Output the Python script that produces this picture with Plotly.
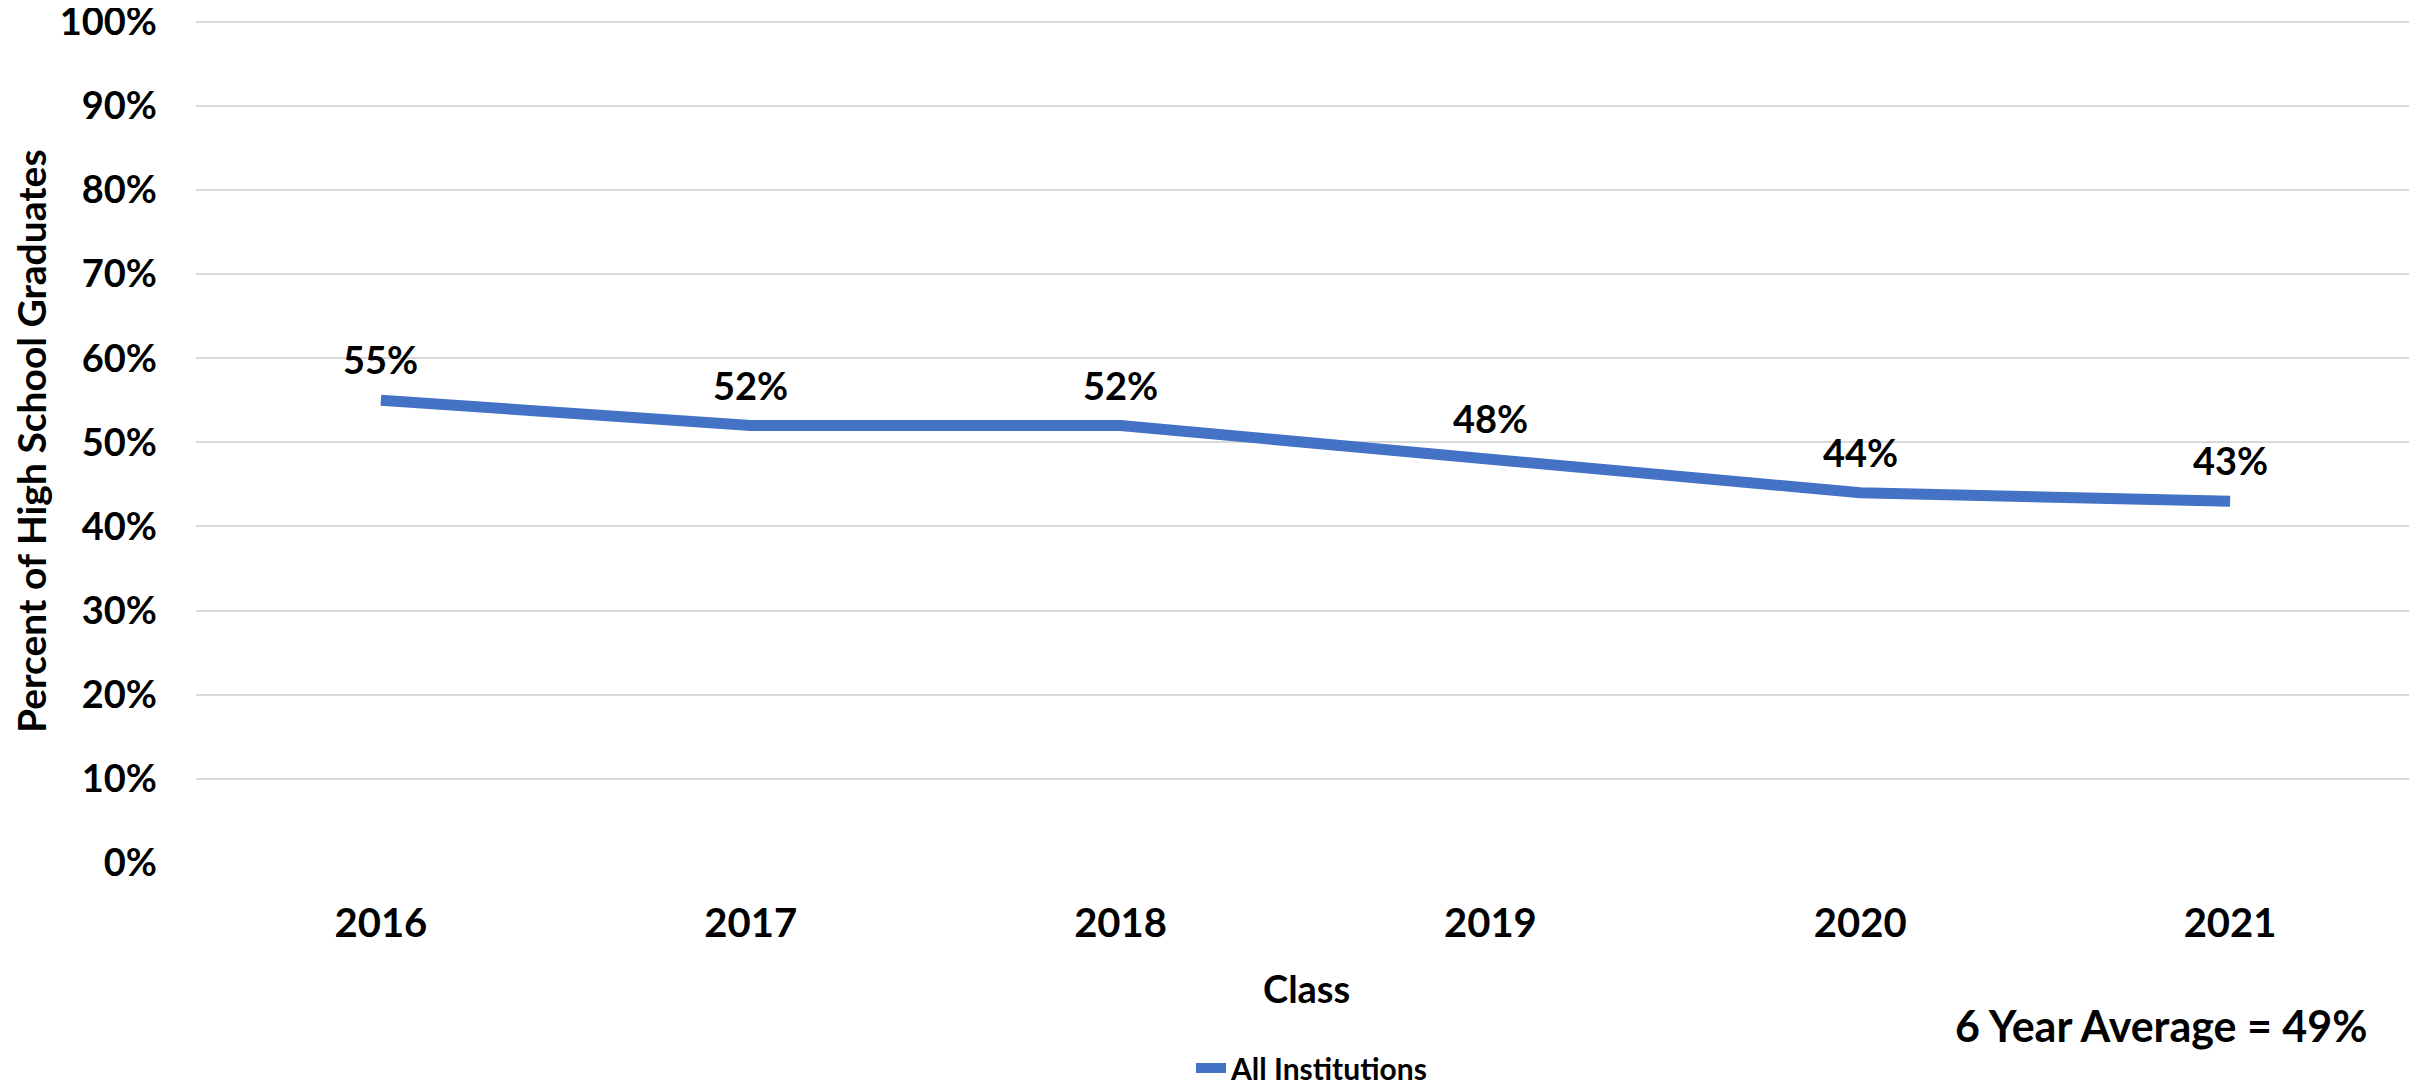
import plotly.graph_objects as go

classes = ["2016", "2017", "2018", "2019", "2020", "2021"]
pct = [55, 52, 52, 48, 44, 43]
labels = ["55%", "52%", "52%", "48%", "44%", "43%"]
y_ticks = [0, 10, 20, 30, 40, 50, 60, 70, 80, 90, 100]
y_tick_text = [f"{v}%" for v in y_ticks]
series_name = "All Institutions"
avg_text = "6 Year Average = 49%"

FONT = "Lato, 'Open Sans', sans-serif"
OFF = 8  # default page body margin
W, H = 2417 - OFF, 1087 - OFF
ML, MR = 196 - OFF, 2
MT = 20 - OFF
MB = H - (863 - OFF)
PH = H - MT - MB
PW = W - ML - MR


def py(page_y):
    return (H - MB - (page_y - OFF)) / PH


def pxx(page_x):
    return ((page_x - OFF) - ML) / PW


fig = go.Figure()
fig.add_trace(go.Scatter(
    x=classes, y=pct, mode="lines", name=series_name,
    line=dict(color="#4472C4", width=11),
    showlegend=True, hoverinfo="skip",
))

for i, (v, t) in enumerate(zip(pct, labels)):
    fig.add_annotation(x=i, y=v, xref="x", yref="y", text=f"<b>{t}</b>",
                       showarrow=False, yshift=41, xanchor="center", yanchor="middle",
                       font=dict(family=FONT, size=38, color="black", weight="bold"))

fig.add_annotation(x=pxx(1307), y=py(988), xref="paper", yref="paper",
                   text="<b>Class</b>", showarrow=False, xanchor="center", yanchor="middle",
                   font=dict(family=FONT, size=38, color="black", weight="bold"))
fig.add_annotation(x=pxx(31), y=py(441), xref="paper", yref="paper",
                   text="<b>Percent of High School Graduates</b>", textangle=-90,
                   showarrow=False, xanchor="center", yanchor="middle",
                   font=dict(family=FONT, size=39, color="black", weight="bold"))
fig.add_annotation(x=pxx(2161), y=py(1025), xref="paper", yref="paper",
                   text=f"<b>{avg_text}</b>", showarrow=False, xanchor="center", yanchor="middle",
                   font=dict(family=FONT, size=43, color="black", weight="bold"))

fig.update_layout(
    width=W, height=H,
    margin=dict(l=ML, r=MR, t=MT, b=MB, autoexpand=False),
    plot_bgcolor="white", paper_bgcolor="white",
    font=dict(family=FONT, color="black"),
    legend=dict(orientation="h", x=pxx(1312), xanchor="center",
                y=py(1068), yanchor="middle",
                font=dict(family=FONT, size=30, color="black", weight="bold"),
                bgcolor="rgba(0,0,0,0)"),
    xaxis=dict(type="category", range=[-0.5, 5.5], showgrid=False,
               showline=False, zeroline=False, ticks="",
               tickvals=classes, ticktext=[f"<b>{c}</b>" for c in classes],
               tickfont=dict(family=FONT, size=40, color="black"),
               ticklabelstandoff=33),
    yaxis=dict(range=[0, 100.2], tickvals=y_ticks, ticktext=[f"<b>{t}</b>" for t in y_tick_text],
               showgrid=True, gridcolor="#D9D9D9", gridwidth=2,
               zeroline=False, showline=False, ticks="",
               tickfont=dict(family=FONT, size=38, color="black"),
               ticklabelstandoff=38, ticklabeloverflow="allow"),
)
fig.write_html("out.html")
